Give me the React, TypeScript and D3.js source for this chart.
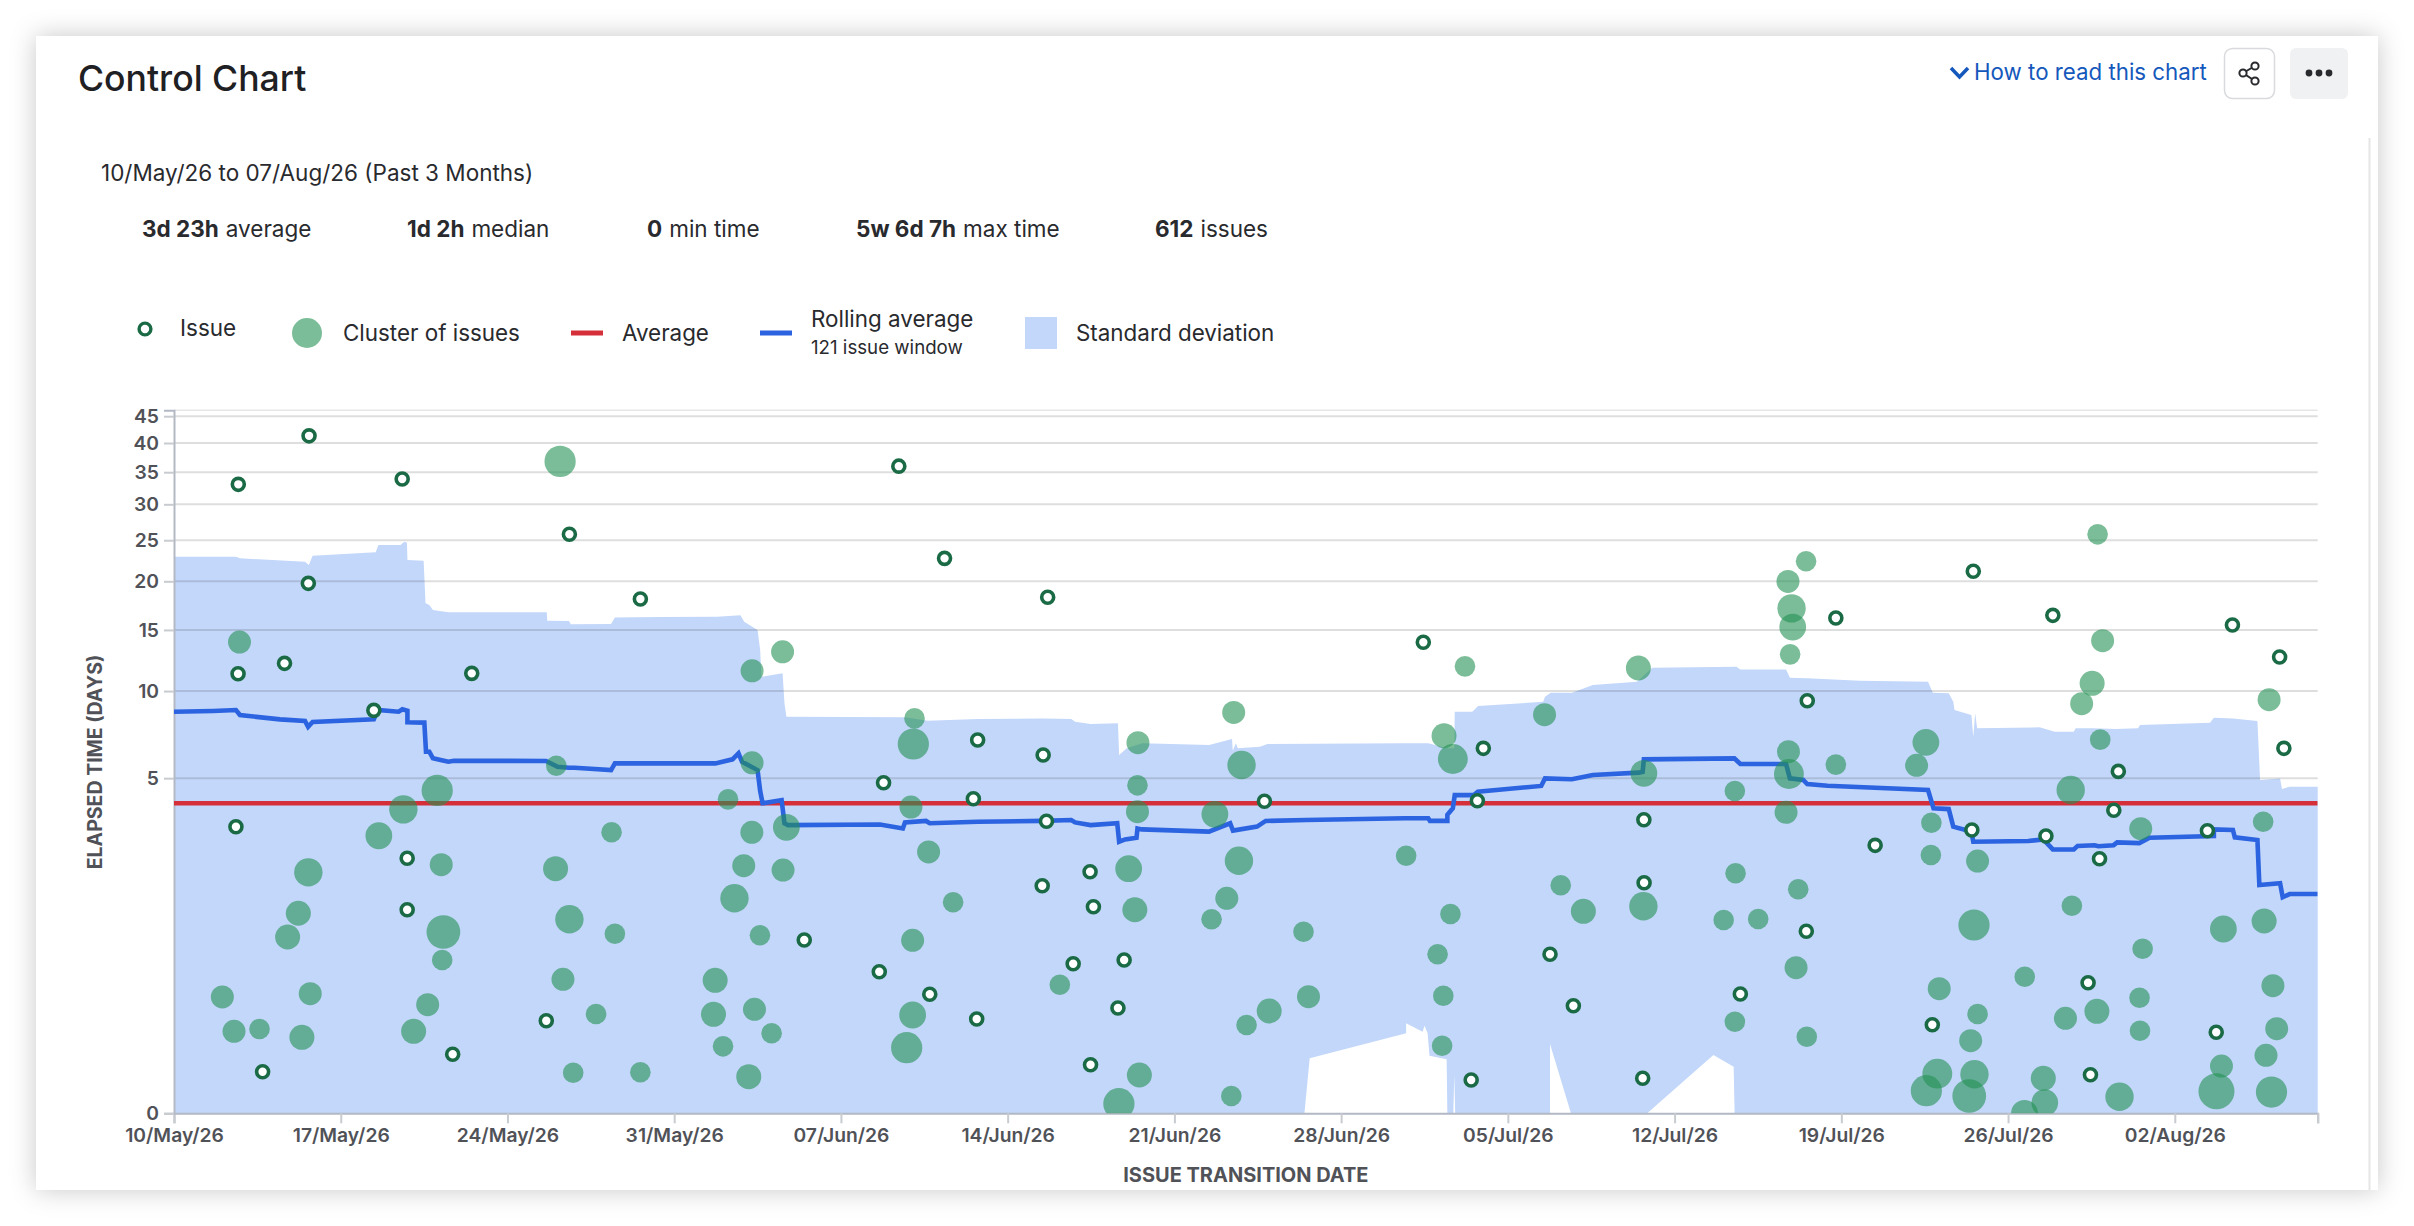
import React, { useEffect, useRef } from "react";
import * as d3 from "d3";

// elapsed time reads off a cube-root axis, x values are days since 10/May/26
const yTicks = [0, 5, 10, 15, 20, 25, 30, 35, 40, 45];
const averageDays = 3.958;
const statItems: [string, string][] = [
  ["3d 23h", "average"],
  ["1d 2h", "median"],
  ["0", "min time"],
  ["5w 6d 7h", "max time"],
  ["612", "issues"],
];

// [day, elapsed]
const issues: [number, number][] = [
  [2.7, 33.05], [5.67, 41.3], [9.58, 33.9], [16.6, 25.8], [19.58, 18.07], [5.64, 19.77], [2.69, 11.28],
  [4.64, 12.1], [12.5, 11.31], [8.39, 8.69], [2.6, 3.126], [9.79, 2.202], [9.79, 1.12], [15.63, 0.1054],
  [11.7, 0.0273], [3.72, 0.00956], [30.43, 36.0], [32.35, 22.7], [36.68, 18.25], [33.74, 6.91], [36.49, 6.11],
  [29.79, 4.8], [33.56, 4.135], [36.63, 3.307], [38.46, 1.873], [36.45, 1.566], [38.6, 1.171], [26.46, 0.691],
  [29.61, 0.377], [37.75, 0.4447], [39.89, 0.4785], [31.73, 0.2238], [39.63, 0.155], [33.7, 0.1114],
  [38.48, 0.01525], [52.45, 13.88], [54.97, 6.457], [69.77, 16.14], [68.57, 9.33], [45.78, 4.034], [54.72, 4.057],
  [61.71, 3.361], [61.72, 1.629], [68.53, 0.8007], [57.77, 0.534], [65.76, 0.2255], [58.75, 0.1655],
  [54.46, 0.0049], [61.66, 0.0057], [75.54, 21.15], [78.88, 16.4], [86.42, 15.46], [88.4, 12.62], [88.58, 6.457],
  [81.63, 5.31], [81.44, 3.695], [75.48, 3.02], [78.59, 2.832], [85.37, 2.998], [80.84, 2.192], [71.42, 2.556],
  [80.36, 0.2958], [73.82, 0.0924], [85.74, 0.0706], [80.46, 0.00764],
];

// [day, elapsed, issues in the cluster]
const clusters: [number, number, number][] = [
  [16.21, 36.8, 8], [2.75, 13.9, 3], [16.05, 5.58, 2], [11.05, 4.47, 8], [9.63, 3.73, 6], [8.6, 2.84, 5],
  [5.64, 1.859, 6], [11.22, 2.04, 3], [5.22, 1.063, 4], [4.77, 0.728, 4], [11.31, 0.7915, 10], [16.02, 1.944, 4],
  [16.6, 0.97, 6], [18.37, 2.947, 2], [18.51, 0.7694, 2], [11.26, 0.4785, 2], [16.33, 0.3196, 3], [2.03, 0.209, 3],
  [5.72, 0.2272, 3], [10.65, 0.1701, 3], [17.72, 0.13, 2], [2.52, 0.0732, 3], [3.59, 0.0796, 2], [5.37, 0.0583, 4],
  [10.06, 0.0732, 4], [16.76, 0.00889, 2], [19.58, 0.00915, 2],
  [25.55, 13.06, 3], [24.27, 11.51, 3], [31.09, 8.18, 2], [31.04, 6.69, 8], [40.47, 6.76, 3], [44.49, 8.56, 3],
  [44.82, 5.61, 6], [24.27, 5.72, 3], [40.45, 4.686, 2], [23.26, 4.11, 2], [30.94, 3.816, 3], [40.45, 3.644, 3],
  [43.7, 3.55, 5], [24.26, 2.947, 3], [25.71, 3.107, 5], [31.68, 2.37, 3], [23.92, 2.016, 3], [25.57, 1.913, 3],
  [40.08, 1.944, 5], [44.71, 2.141, 6], [23.53, 1.32, 6], [32.71, 1.248, 2], [40.34, 1.12, 4], [44.2, 1.32, 3],
  [43.56, 0.97, 2], [24.6, 0.749, 2], [31.01, 0.6877, 3], [37.19, 0.2825, 2], [22.72, 0.3125, 4], [22.65, 0.1289, 4],
  [24.37, 0.1494, 3], [31.01, 0.1262, 5], [25.09, 0.068, 2], [23.05, 0.0399, 2], [30.76, 0.0375, 8], [24.13, 0.00651, 4],
  [40.53, 0.00746, 4], [39.67, 0.000118, 8], [44.39, 0.000688, 2], [45.03, 0.0914, 2],
  [54.2, 11.86, 2], [61.48, 11.73, 4], [57.54, 8.41, 3], [53.32, 7.15, 4], [53.69, 5.91, 7], [68.52, 22.34, 2],
  [67.76, 19.99, 3], [67.91, 17.1, 6], [67.96, 15.27, 5], [67.85, 12.84, 2], [67.78, 6.28, 3], [61.71, 5.22, 5],
  [67.8, 5.19, 7], [69.77, 5.63, 2], [65.53, 4.445, 2], [51.73, 2.27, 2], [67.68, 3.622, 3], [65.56, 1.836, 2],
  [68.19, 1.493, 2], [58.22, 1.574, 2], [53.59, 1.051, 2], [59.17, 1.095, 4], [61.69, 1.178, 6], [65.06, 0.9593, 2],
  [66.51, 0.9742, 2], [47.42, 0.7954, 2], [53.05, 0.534, 2], [68.1, 0.41, 3], [47.63, 0.2105, 3], [53.29, 0.216, 2],
  [45.98, 0.1422, 4], [65.53, 0.1021, 2], [53.24, 0.041, 2], [68.55, 0.0597, 2],
  [80.76, 25.78, 2], [80.97, 14.02, 3], [80.53, 10.56, 4], [80.09, 9.13, 3], [87.96, 9.4, 3], [80.87, 6.93, 2],
  [73.55, 6.78, 5], [73.16, 5.6, 3], [79.63, 4.487, 6], [73.78, 3.26, 2], [73.76, 2.289, 2], [75.72, 2.133, 3],
  [82.57, 3.061, 3], [87.71, 3.293, 2], [79.68, 1.188, 2], [75.57, 0.8867, 8], [86.04, 0.8314, 5], [87.75, 0.9445, 4],
  [82.65, 0.5923, 2], [74.11, 0.2569, 3], [77.7, 0.3385, 2], [88.12, 0.2759, 3], [82.52, 0.2052, 2], [75.72, 0.13, 2],
  [80.73, 0.1409, 4], [79.41, 0.1139, 3], [82.54, 0.0748, 2], [88.28, 0.0804, 3], [75.43, 0.0508, 3], [87.83, 0.0259, 3],
  [85.96, 0.01405, 3], [74.03, 0.00825, 7], [75.59, 0.00788, 6], [73.57, 0.00153, 8], [75.37, 0.000688, 10],
  [78.48, 0.0057, 4], [78.54, 0.000158, 5], [77.69, 0, 5], [81.68, 0.000608, 6], [85.75, 0.00141, 12], [88.06, 0.00128, 8],
];

const rollingAverage: [number, number][] = [
  [0, 8.6], [1.64, 8.65], [2.6, 8.71], [2.77, 8.39], [4.45, 8.12], [5.5, 8.02], [5.63, 7.67], [5.82, 7.96], [8.39, 8.12],
  [8.55, 8.71], [9.43, 8.6], [9.59, 8.76], [9.8, 8.67], [9.8, 7.94], [10.51, 7.92], [10.58, 6.28], [10.72, 6.28],
  [10.87, 5.94], [11.52, 5.77], [11.75, 5.82], [15.62, 5.81], [16.1, 5.53], [16.58, 5.48], [16.82, 5.48], [18.35, 5.37],
  [18.51, 5.69], [20.4, 5.69], [22.73, 5.69], [23.45, 5.89], [23.7, 6.2], [23.85, 5.77], [24.5, 5.37], [24.61, 4.445],
  [24.71, 3.96], [25.51, 4.08], [25.63, 3.24], [25.78, 3.18], [29.64, 3.2], [30.6, 3.07], [30.69, 3.27], [31.57, 3.32],
  [31.73, 3.24], [33.74, 3.29], [36.47, 3.32], [37.67, 3.35], [37.83, 3.27], [38.48, 3.18], [39.6, 3.24], [39.68, 2.66],
  [39.93, 2.73], [40.41, 2.78], [40.45, 3.07], [40.64, 3.04], [43.45, 2.97], [44.34, 3.24], [44.46, 3.0], [45.47, 3.13],
  [45.83, 3.32], [47.52, 3.35], [51.69, 3.41], [52.66, 3.41], [52.73, 3.32], [53.46, 3.32], [53.46, 3.53], [53.69, 3.77],
  [53.77, 4.28], [54.57, 4.28], [54.74, 4.42], [57.4, 4.66], [57.56, 4.99], [58.69, 4.95], [59.57, 5.14], [61.5, 5.25],
  [61.66, 5.29], [61.71, 5.89], [65.51, 5.94], [65.76, 5.66], [67.68, 5.66], [67.84, 4.99], [68.4, 4.92], [68.57, 4.74],
  [69.42, 4.67], [73.64, 4.49], [73.87, 3.77], [74.51, 3.74], [74.7, 3.13], [75.46, 2.97], [75.54, 2.66], [77.85, 2.68],
  [78.48, 2.73], [78.88, 2.44], [79.76, 2.44], [79.92, 2.54], [80.63, 2.56], [80.79, 2.53], [81.43, 2.56], [81.58, 2.64],
  [82.51, 2.62], [82.94, 2.78], [85.64, 2.83], [85.64, 3.04], [86.44, 3.02], [86.52, 2.79], [87.47, 2.71], [87.55, 1.58],
  [88.42, 1.62], [88.53, 1.34], [88.82, 1.4], [90, 1.4],
];

const sdUpper: [number, number][] = [
  [0, 22.9], [2.6, 22.9], [2.77, 22.7], [5.5, 22.29], [5.66, 21.9], [5.82, 23.03], [8.47, 23.45], [8.58, 24.38], [9.51, 24.38],
  [9.67, 24.8], [9.78, 24.67], [9.8, 22.5], [10.48, 22.41], [10.56, 17.62], [10.72, 17.44], [10.87, 16.93], [11.52, 16.7],
  [15.65, 16.7], [15.67, 15.87], [16.58, 15.85], [16.66, 15.53], [18.35, 15.56], [18.51, 16.2], [20.4, 16.23], [22.81, 16.27],
  [23.78, 16.4], [23.94, 15.78], [24.5, 15], [24.61, 13.2], [24.66, 11.05], [25.55, 11.31], [25.63, 9.15], [25.71, 8.28],
  [30.69, 8.25], [31.65, 8.04], [33.74, 8.14], [36.47, 8.18], [37.67, 8.14], [37.83, 7.98], [38.48, 7.84], [39.63, 7.88],
  [39.68, 6.11], [40, 6.46], [40.65, 6.73], [43.46, 6.64], [44.42, 6.96], [44.45, 6.33], [44.58, 6.73], [44.66, 6.46],
  [45.59, 6.54], [45.91, 6.69], [51.69, 6.73], [52.66, 6.73], [53.46, 6.46], [53.75, 6.46], [53.77, 8.6], [54.51, 8.6],
  [54.75, 8.97], [57.48, 9.26], [57.56, 9.6], [57.8, 9.88], [58.69, 9.88], [59.57, 10.43], [61.42, 10.68], [62.06, 11.75],
  [65.6, 11.83], [65.76, 11.62], [67.68, 11.62], [67.84, 10.98], [68.57, 10.93], [70.78, 10.75], [73.64, 10.68], [73.84, 9.88],
  [74.51, 9.84], [74.7, 9.26], [74.75, 8.71], [75.46, 8.39], [75.54, 7.09], [75.62, 8.5], [75.7, 7.58], [78.32, 7.64],
  [78.96, 7.38], [79.76, 7.38], [79.84, 7.58], [80.55, 7.58], [81.51, 7.54], [82.46, 7.58], [82.54, 7.78], [85.48, 7.92],
  [85.64, 8.22], [86.44, 8.18], [87.47, 8.02], [87.58, 4.92], [88.42, 4.99], [88.5, 4.53], [88.82, 4.63], [90, 4.63],
];

const sdLower: [number, number][] = [
  [0, 0], [47.46, 0], [47.68, 0.0221], [51.73, 0.068], [51.73, 0.0968], [52.42, 0.0722], [52.5, 0.0893], [52.63, 0.0688],
  [52.71, 0.0254], [53.43, 0.0209], [53.46, 0], [53.71, 0], [53.75, 0.00746], [53.79, 0], [57.77, 0], [57.77, 0.0442],
  [58.65, 0], [61.85, 0], [64.63, 0.0263], [65.48, 0.01344], [65.52, 0], [90, 0],
];

const FONT = "Inter, 'Noto Sans', sans-serif";
const INK = "#292A2E";
const AXIS_INK = "#505258";
const GREEN = "#239153";
const ISSUE_GREEN = "#1A6B45";
const BLUE = "#2C63E0";
const RED = "#D5303A";
const BAND = "#C2D7F9";

const App: React.FC = () => {
  const svgRef = useRef<SVGSVGElement>(null);

  useEffect(() => {
    if (!svgRef.current) return;
    const svg = d3.select(svgRef.current);
    svg.selectAll("*").remove();

    const start = Date.UTC(2026, 4, 10);
    const toDate = (day: number) => new Date(start + day * 864e5);
    const x = d3.scaleUtc().domain([toDate(0), toDate(90)]).range([174, 2317.7]);
    const y = d3.scalePow().exponent(1 / 3).domain([0, 46.15]).range([1113.3, 410.3]);
    const radius = d3.scaleSqrt().domain([2, 12]).range([10.3, 18]);
    const [x0, x1] = x.range();
    const [y0, y1] = y.range();

    const defs = svg.append("defs");
    const shadow = defs.append("filter").attr("id", "card-shadow")
      .attr("x", "-5%").attr("y", "-10%").attr("width", "110%").attr("height", "120%");
    shadow.append("feDropShadow").attr("dx", 0).attr("dy", 0).attr("stdDeviation", 13)
      .attr("flood-color", "#000").attr("flood-opacity", 0.22);
    defs.append("clipPath").attr("id", "plot-clip").append("rect")
      .attr("x", x0).attr("y", y1).attr("width", x1 - x0).attr("height", y0 - y1);

    // card
    svg.append("rect").attr("x", 36).attr("y", 36).attr("width", 2342).attr("height", 1154)
      .attr("fill", "#fff").attr("filter", "url(#card-shadow)");
    svg.append("line").attr("x1", 2369.5).attr("x2", 2369.5).attr("y1", 138).attr("y2", 1190)
      .attr("stroke", "#E6E6E6").attr("stroke-width", 2);

    const label = (tx: number, ty: number, s: string, size: number, weight = 400, fill = INK, anchor = "start") =>
      svg.append("text").attr("x", tx).attr("y", ty).attr("font-family", FONT).attr("font-size", size)
        .attr("font-weight", weight).attr("fill", fill).attr("text-anchor", anchor).text(s);

    // header
    label(78, 91, "Control Chart", 35.6, 500, "#1F2023");
    label(1974, 80, "How to read this chart", 22.3, 400, "#1558BC");
    svg.append("path").attr("d", "M1951 68L1959.5 77L1968 68").attr("fill", "none")
      .attr("stroke", "#1558BC").attr("stroke-width", 3.5);
    svg.append("rect").attr("x", 2224.5).attr("y", 48.5).attr("width", 50).attr("height", 50).attr("rx", 8)
      .attr("fill", "#fff").attr("stroke", "#D9DADD").attr("stroke-width", 1.5);
    svg.append("path").attr("d", "M2255 66L2243 73L2255 81").attr("fill", "none").attr("stroke", INK).attr("stroke-width", 2);
    [[2255, 66], [2243, 73], [2255, 81]].forEach(([cx, cy]) =>
      svg.append("circle").attr("cx", cx).attr("cy", cy).attr("r", 3.6)
        .attr("fill", "#fff").attr("stroke", INK).attr("stroke-width", 2));
    svg.append("rect").attr("x", 2290).attr("y", 48).attr("width", 58).attr("height", 51).attr("rx", 6).attr("fill", "#F0F1F2");
    [2309, 2319, 2329].forEach((cx) =>
      svg.append("circle").attr("cx", cx).attr("cy", 73).attr("r", 3.4).attr("fill", INK));

    label(101, 181, "10/May/26 to 07/Aug/26 (Past 3 Months)", 22.5);

    // summary stats
    const statX = [142, 407, 647, 856, 1155];
    statItems.forEach(([value, name], i) => {
      const t = label(statX[i], 237, "", 22.5);
      t.append("tspan").attr("font-weight", 700).text(value);
      t.append("tspan").attr("dx", 7).text(name);
    });

    // legend
    svg.append("circle").attr("cx", 145).attr("cy", 329).attr("r", 5.9).attr("fill", "#fff")
      .attr("stroke", ISSUE_GREEN).attr("stroke-width", 3.4);
    label(180, 336, "Issue", 22.5);
    svg.append("circle").attr("cx", 307).attr("cy", 333).attr("r", 15).attr("fill", GREEN).attr("fill-opacity", 0.6);
    label(343, 341, "Cluster of issues", 22.4);
    svg.append("line").attr("x1", 571).attr("x2", 603).attr("y1", 333).attr("y2", 333).attr("stroke", RED).attr("stroke-width", 5);
    label(622, 341, "Average", 22.4);
    svg.append("line").attr("x1", 760).attr("x2", 792).attr("y1", 333).attr("y2", 333).attr("stroke", BLUE).attr("stroke-width", 5);
    label(811, 327, "Rolling average", 22.4);
    label(811, 354, "121 issue window", 18.7);
    svg.append("rect").attr("x", 1025).attr("y", 317).attr("width", 32).attr("height", 32).attr("fill", BAND);
    label(1076, 341, "Standard deviation", 22.4);

    // standard deviation band
    const outline = d3.line<[number, number]>().x((d) => x(toDate(d[0]))).y((d) => y(d[1]));
    svg.append("path").attr("d", outline([...sdUpper, ...[...sdLower].reverse()]) + "Z").attr("fill", BAND);

    // grid
    const grid = svg.append("g");
    [...yTicks.filter((t) => t > 0), 46.15].forEach((t) => {
      grid.append("line").attr("x1", x0).attr("x2", x1).attr("y1", y(t)).attr("y2", y(t))
        .attr("stroke", "#333").attr("stroke-opacity", t === 46.15 ? 0.12 : 0.16).attr("stroke-width", t === 46.15 ? 1.5 : 2);
    });

    // axes
    const weekTicks = d3.range(0, 90, 7).map(toDate);
    const xAxis = svg.append("g").attr("transform", `translate(0,${y0})`)
      .call(d3.axisBottom(x).tickValues([...weekTicks, toDate(90)]).tickSize(10).tickPadding(5)
        .tickFormat((d, i) => (i < weekTicks.length ? d3.utcFormat("%d/%b/%y")(d as Date) : "")));
    const yAxis = svg.append("g").attr("transform", `translate(${x0},0)`)
      .call(d3.axisLeft(y).tickValues(yTicks).tickSize(10).tickPadding(5).tickFormat((d) => String(d)));
    [xAxis, yAxis].forEach((axis) => {
      axis.selectAll(".domain").attr("stroke", "#B3B9C4").attr("stroke-width", 2);
      axis.selectAll(".tick line").attr("stroke", "#C8CBD0").attr("stroke-width", 2);
      axis.selectAll("text").attr("font-family", FONT).attr("font-size", 19.3).attr("font-weight", 600).attr("fill", AXIS_INK);
    });
    label((x0 + x1) / 2, 1181.5, "ISSUE TRANSITION DATE", 20, 700, AXIS_INK, "middle");
    label(0, 0, "ELAPSED TIME (DAYS)", 19.5, 700, AXIS_INK, "middle").attr("transform", "translate(102,762) rotate(-90)");

    // lines and points
    const plot = svg.append("g").attr("clip-path", "url(#plot-clip)");
    plot.append("line").attr("x1", x0).attr("x2", x1).attr("y1", y(averageDays)).attr("y2", y(averageDays))
      .attr("stroke", RED).attr("stroke-width", 4.6);
    plot.append("path").attr("d", outline(rollingAverage)).attr("fill", "none").attr("stroke", BLUE)
      .attr("stroke-width", 4.6).attr("stroke-linejoin", "miter");
    plot.selectAll(".cluster").data(clusters).join("circle").attr("class", "cluster")
      .attr("cx", (d) => x(toDate(d[0]))).attr("cy", (d) => y(d[1])).attr("r", (d) => radius(d[2]))
      .attr("fill", GREEN).attr("fill-opacity", 0.6);
    plot.selectAll(".issue").data(issues).join("circle").attr("class", "issue")
      .attr("cx", (d) => x(toDate(d[0]))).attr("cy", (d) => y(d[1])).attr("r", 6)
      .attr("fill", "#fff").attr("stroke", ISSUE_GREEN).attr("stroke-width", 3.6);
  }, []);

  return (
    <svg
      ref={svgRef}
      width={2414}
      height={1226}
      style={{ position: "absolute", left: 0, top: 0, display: "block", background: "#fff" }}
    />
  );
};

export default App;
